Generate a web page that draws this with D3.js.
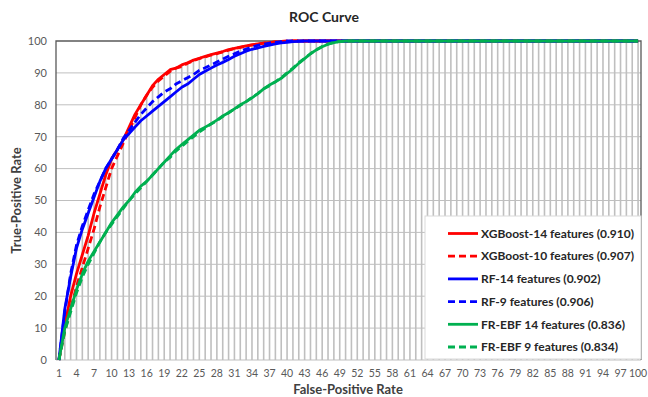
<!DOCTYPE html>
<html>
<head>
<meta charset="utf-8">
<script src="https://cdn.jsdelivr.net/npm/d3@7"></script>
<style>
  body { margin: 0; background: #fff; }
  text { font-family: Lato, "Open Sans", sans-serif; }
  .tick-label { font-size: 11px; fill: #595959; }
  .axis-title { font-size: 13px; font-weight: bold; fill: #404040; }
  .legend-text { font-size: 12px; font-weight: bold; fill: #262626; }
</style>
</head>
<body>
<script>
var width = 648,
    height = 397;

var margin = {top: 41, right: 7, bottom: 37, left: 56};

// false-positive rate categories 1..100
var categories = d3.range(1, 101);
var yTicks = [0, 10, 20, 30, 40, 50, 60, 70, 80, 90, 100];

// true-positive rate per category (values after the curve tops out stay at 100)
var xgb14 = [0, 11, 20, 27, 33, 39, 46, 52, 58, 63, 66, 69, 73, 77, 80, 83, 86, 88, 89.5, 91,
  91.5, 92.5, 93.2, 94, 94.6, 95.2, 95.7, 96.2, 96.7, 97.3, 97.7, 98.1, 98.5, 98.8, 99.1, 99.3, 99.5, 99.7, 99.8, 99.9,
  100, 100, 100, 100, 100, 100, 100, 100, 100, 100, 100, 100, 100, 100, 100, 100, 100, 100, 100, 100,
  100, 100, 100, 100, 100, 100, 100, 100, 100, 100, 100, 100, 100, 100, 100, 100, 100, 100, 100, 100,
  100, 100, 100, 100, 100, 100, 100, 100, 100, 100, 100, 100, 100, 100, 100, 100, 100, 100, 100, 100];
var xgb10 = [0, 9, 16, 23, 29, 35, 41, 48, 54, 60, 64, 68, 72, 76, 80, 83, 85.5, 87.5, 89, 90.5,
  91.5, 92, 93, 93.8, 94.5, 95, 95.6, 96, 96.6, 97.1, 97.6, 98, 98.4, 98.8, 99, 99.3, 99.5, 99.7, 99.9, 100,
  100, 100, 100, 100, 100, 100, 100, 100, 100, 100, 100, 100, 100, 100, 100, 100, 100, 100, 100, 100,
  100, 100, 100, 100, 100, 100, 100, 100, 100, 100, 100, 100, 100, 100, 100, 100, 100, 100, 100, 100,
  100, 100, 100, 100, 100, 100, 100, 100, 100, 100, 100, 100, 100, 100, 100, 100, 100, 100, 100, 100];
var rf14 = [0, 16, 26, 35, 41, 46, 51, 56, 60, 63, 66, 69, 71, 73, 75, 76.5, 78, 79.5, 81, 82.5,
  84, 85.5, 86.5, 88, 89.5, 90.5, 91.5, 92.5, 93.3, 94.2, 95.2, 96, 96.8, 97.4, 97.8, 98.3, 98.7, 99.1, 99.4, 99.6,
  99.8, 99.9, 100, 100, 100, 100, 100, 100, 100, 100, 100, 100, 100, 100, 100, 100, 100, 100, 100, 100,
  100, 100, 100, 100, 100, 100, 100, 100, 100, 100, 100, 100, 100, 100, 100, 100, 100, 100, 100, 100,
  100, 100, 100, 100, 100, 100, 100, 100, 100, 100, 100, 100, 100, 100, 100, 100, 100, 100, 100, 100];
var rf9 = [0, 15, 27, 36, 42, 47, 52, 56, 60, 63, 66, 69.5, 72, 74.5, 77, 79, 81, 82.5, 84, 85,
  86.5, 87.5, 88.5, 89.5, 90.8, 91.6, 92.5, 93.4, 94.3, 95.2, 96, 96.8, 97.5, 98.1, 98.6, 99, 99.3, 99.6, 99.8, 100,
  100, 100, 100, 100, 100, 100, 100, 100, 100, 100, 100, 100, 100, 100, 100, 100, 100, 100, 100, 100,
  100, 100, 100, 100, 100, 100, 100, 100, 100, 100, 100, 100, 100, 100, 100, 100, 100, 100, 100, 100,
  100, 100, 100, 100, 100, 100, 100, 100, 100, 100, 100, 100, 100, 100, 100, 100, 100, 100, 100, 100];
var ebf14 = [0, 10, 16, 22, 27, 31, 34, 37, 40, 43, 45.5, 48, 50, 52.5, 54.5, 56, 58, 60, 62, 64,
  66, 67.5, 69, 70.5, 72, 73, 74, 75.2, 76.5, 77.5, 78.7, 80, 81, 82.2, 83.5, 85, 86.2, 87.2, 88.3, 89.8,
  91.3, 93, 94.5, 96, 97.2, 98.2, 99, 99.5, 99.8, 100, 100, 100, 100, 100, 100, 100, 100, 100, 100, 100,
  100, 100, 100, 100, 100, 100, 100, 100, 100, 100, 100, 100, 100, 100, 100, 100, 100, 100, 100, 100,
  100, 100, 100, 100, 100, 100, 100, 100, 100, 100, 100, 100, 100, 100, 100, 100, 100, 100, 100, 100];
var ebf9 = [0, 9, 15, 21, 26, 30, 33.5, 37, 40, 42.5, 45, 47.5, 50, 52, 54, 56, 58, 60, 62, 63.5,
  65.5, 67, 68.5, 70, 71.5, 72.7, 74, 75, 76.3, 77.5, 78.7, 79.8, 81, 82.3, 83.5, 85, 86, 87.2, 88.5, 90,
  91.5, 93.2, 94.6, 96, 97.3, 98.3, 99, 99.6, 99.9, 100, 100, 100, 100, 100, 100, 100, 100, 100, 100, 100,
  100, 100, 100, 100, 100, 100, 100, 100, 100, 100, 100, 100, 100, 100, 100, 100, 100, 100, 100, 100,
  100, 100, 100, 100, 100, 100, 100, 100, 100, 100, 100, 100, 100, 100, 100, 100, 100, 100, 100, 100];

var seriesNames = ["XGBoost-14 features (0.910)", "XGBoost-10 features (0.907)", "RF-14 features (0.902)",
  "RF-9 features (0.906)", "FR-EBF 14 features (0.836)", "FR-EBF 9 features (0.834)"];
var seriesValues = [xgb14, xgb10, rf14, rf9, ebf14, ebf9];
var seriesColors = ["#ff0000", "#ff0000", "#0000ff", "#0000ff", "#00b050", "#00b050"];
var seriesDashed = [false, true, false, true, false, true];

var series = seriesNames.map(function(name, i) {
  return {name: name, values: seriesValues[i], color: seriesColors[i], dashed: seriesDashed[i]};
});

var svg = d3.select("body").append("svg")
    .attr("width", width)
    .attr("height", height);

var x = d3.scalePoint()
    .domain(categories)
    .range([margin.left, width - margin.right])
    .padding(0.5);

var y = d3.scaleLinear()
    .domain([0, 100])
    .range([height - margin.bottom, margin.top]);

// title
svg.append("text")
    .attr("x", 324)
    .attr("y", 22)
    .attr("text-anchor", "middle")
    .style("font-size", "14px")
    .style("font-weight", "bold")
    .style("fill", "#262626")
    .text("ROC Curve");

// horizontal gridlines
svg.append("g")
  .selectAll("line")
  .data(yTicks.slice(1, -1))
  .enter().append("line")
    .attr("x1", margin.left)
    .attr("x2", width - margin.right)
    .attr("y1", function(d) { return y(d); })
    .attr("y2", function(d) { return y(d); })
    .style("stroke", "#bfbfbf")
    .style("stroke-width", 1);

// drop lines from highest series down to the axis
svg.append("g")
  .selectAll("line")
  .data(categories)
  .enter().append("line")
    .attr("x1", function(d) { return x(d); })
    .attr("x2", function(d) { return x(d); })
    .attr("y1", y(0))
    .attr("y2", function(d, i) { return y(d3.max(seriesValues, function(s) { return s[i]; })); })
    .style("stroke", "#bfbfbf")
    .style("stroke-width", 1.6);

// axis frame
svg.append("line")
    .attr("x1", margin.left).attr("x2", width - margin.right)
    .attr("y1", y(0)).attr("y2", y(0))
    .style("stroke", "#bfbfbf");
svg.append("path")
    .attr("d", "M" + margin.left + "," + y(0) + "V" + y(100) + "H" + (width - margin.right) + "V" + y(0))
    .style("fill", "none")
    .style("stroke", "#595959")
    .style("stroke-width", 1.3);

// y tick labels
svg.append("g")
  .selectAll("text")
  .data(yTicks)
  .enter().append("text")
    .attr("class", "tick-label")
    .attr("x", margin.left - 9)
    .attr("y", function(d) { return y(d); })
    .attr("dy", "0.35em")
    .attr("text-anchor", "end")
    .text(function(d) { return d; });

// x tick labels, every third category
svg.append("g")
  .selectAll("text")
  .data(categories.filter(function(d) { return (d - 1) % 3 === 0; }))
  .enter().append("text")
    .attr("class", "tick-label")
    .attr("x", function(d) { return x(d); })
    .attr("y", y(0) + 17)
    .attr("text-anchor", "middle")
    .style("font-size", "10.5px")
    .text(function(d) { return d; });

// series lines, in legend order (green ends up on top)
var line = d3.line()
    .x(function(d, i) { return x(categories[i]); })
    .y(function(d) { return y(d); });

svg.append("g")
  .selectAll("path")
  .data(series)
  .enter().append("path")
    .attr("d", function(d) { return line(d.values); })
    .style("fill", "none")
    .style("stroke", function(d) { return d.color; })
    .style("stroke-width", 2.8)
    .style("stroke-dasharray", function(d) { return d.dashed ? "7,4" : null; })
    .style("stroke-linejoin", "round");

// legend
var legend = svg.append("g");
legend.append("rect")
    .attr("x", 425)
    .attr("y", 216)
    .attr("width", width - margin.right - 425)
    .attr("height", y(0) - 216 - 1)
    .style("fill", "#fff")
    .style("stroke", "#d9d9d9")
    .style("stroke-width", 1);

var item = legend.selectAll("g.item")
  .data(series)
  .enter().append("g")
    .attr("class", "item")
    .attr("transform", function(d, i) { return "translate(448," + (233.5 + i * 22.7) + ")"; });

item.append("line")
    .attr("x1", 0)
    .attr("x2", 30)
    .style("stroke", function(d) { return d.color; })
    .style("stroke-width", 2.8)
    .style("stroke-dasharray", function(d) { return d.dashed ? "7,4" : null; });

item.append("text")
    .attr("class", "legend-text")
    .attr("x", 33)
    .attr("dy", "0.35em")
    .text(function(d) { return d.name; });

// axis titles
svg.append("text")
    .attr("class", "axis-title")
    .attr("x", 348)
    .attr("y", 394)
    .attr("text-anchor", "middle")
    .text("False-Positive Rate");

svg.append("text")
    .attr("class", "axis-title")
    .attr("transform", "translate(21," + y(50) + ") rotate(-90)")
    .attr("text-anchor", "middle")
    .text("True-Positive Rate");
</script>
</body>
</html>
